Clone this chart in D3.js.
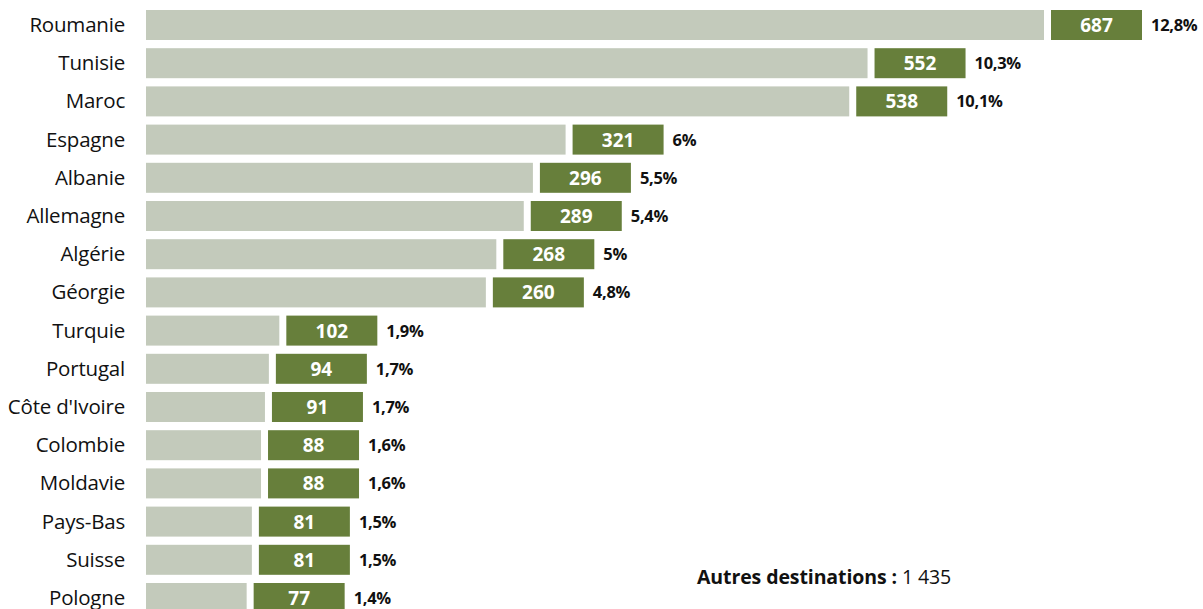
<!DOCTYPE html>
<html><head><meta charset="utf-8">
<script src="https://cdn.jsdelivr.net/npm/d3@7/dist/d3.min.js"></script>
<style>body{margin:0;background:#fff;}svg{display:block;}</style>
</head><body>
<svg id="c" width="1203" height="609"></svg>
<script>
const countries = ["Roumanie","Tunisie","Maroc","Espagne","Albanie","Allemagne","Algérie","Géorgie","Turquie","Portugal","Côte d'Ivoire","Colombie","Moldavie","Pays-Bas","Suisse","Pologne"];
const values = [687,552,538,321,296,289,268,260,102,94,91,88,88,81,81,77];
const percents = ["12,8%","10,3%","10,1%","6%","5,5%","5,4%","5%","4,8%","1,9%","1,7%","1,7%","1,6%","1,6%","1,5%","1,5%","1,4%"];
const otherLabel = "Autres destinations :";
const otherValue = "1 435";

const svg = d3.select("#c");
const font = "'Open Sans', sans-serif";
const x = d3.scaleLinear().domain([0, 687]).range([146, 1044]);
const step = 38.2, bh = 30;
const y = d3.scaleLinear().domain([0, 1]).range([10, 10 + step]);
const data = countries.map((c,i)=>({c, v:values[i], p:percents[i], i}));
const boxW = 91, gap = 7;

const g = svg.selectAll("g.row").data(data).join("g").attr("class","row");
g.append("rect").attr("x", x(0)).attr("y", d=>y(d.i)).attr("width", d=>x(d.v)-x(0)).attr("height", bh).attr("fill","#c3cabb");
g.append("rect").attr("x", d=>x(d.v)+gap).attr("y", d=>y(d.i)).attr("width", boxW).attr("height", bh).attr("fill","#677f3b");
g.append("text").attr("x", 125).attr("y", d=>y(d.i)+bh/2+7).attr("text-anchor","end")
  .attr("font-family", font).attr("font-size", 20.5).attr("fill","#111").attr("letter-spacing",-0.2).text(d=>d.c);
g.append("text").attr("x", d=>x(d.v)+gap+boxW/2).attr("y", d=>y(d.i)+bh/2+7).attr("text-anchor","middle")
  .attr("font-family", font).attr("font-weight","bold").attr("font-size", 19).attr("fill","#fff").text(d=>d.v);
g.append("text").attr("x", d=>x(d.v)+gap+boxW+9).attr("y", d=>y(d.i)+bh/2+6).attr("text-anchor","start")
  .attr("font-family", font).attr("font-weight","bold").attr("font-size", 16.5).attr("fill","#111").attr("letter-spacing",-0.3).text(d=>d.p);

const t = svg.append("text").attr("x", 697).attr("y", 584).attr("font-family", font).attr("font-size", 19.5).attr("fill","#111").attr("letter-spacing",-0.1);
t.append("tspan").attr("font-weight","bold").text(otherLabel + " ");
t.append("tspan").text(otherValue);
</script>
</body></html>
